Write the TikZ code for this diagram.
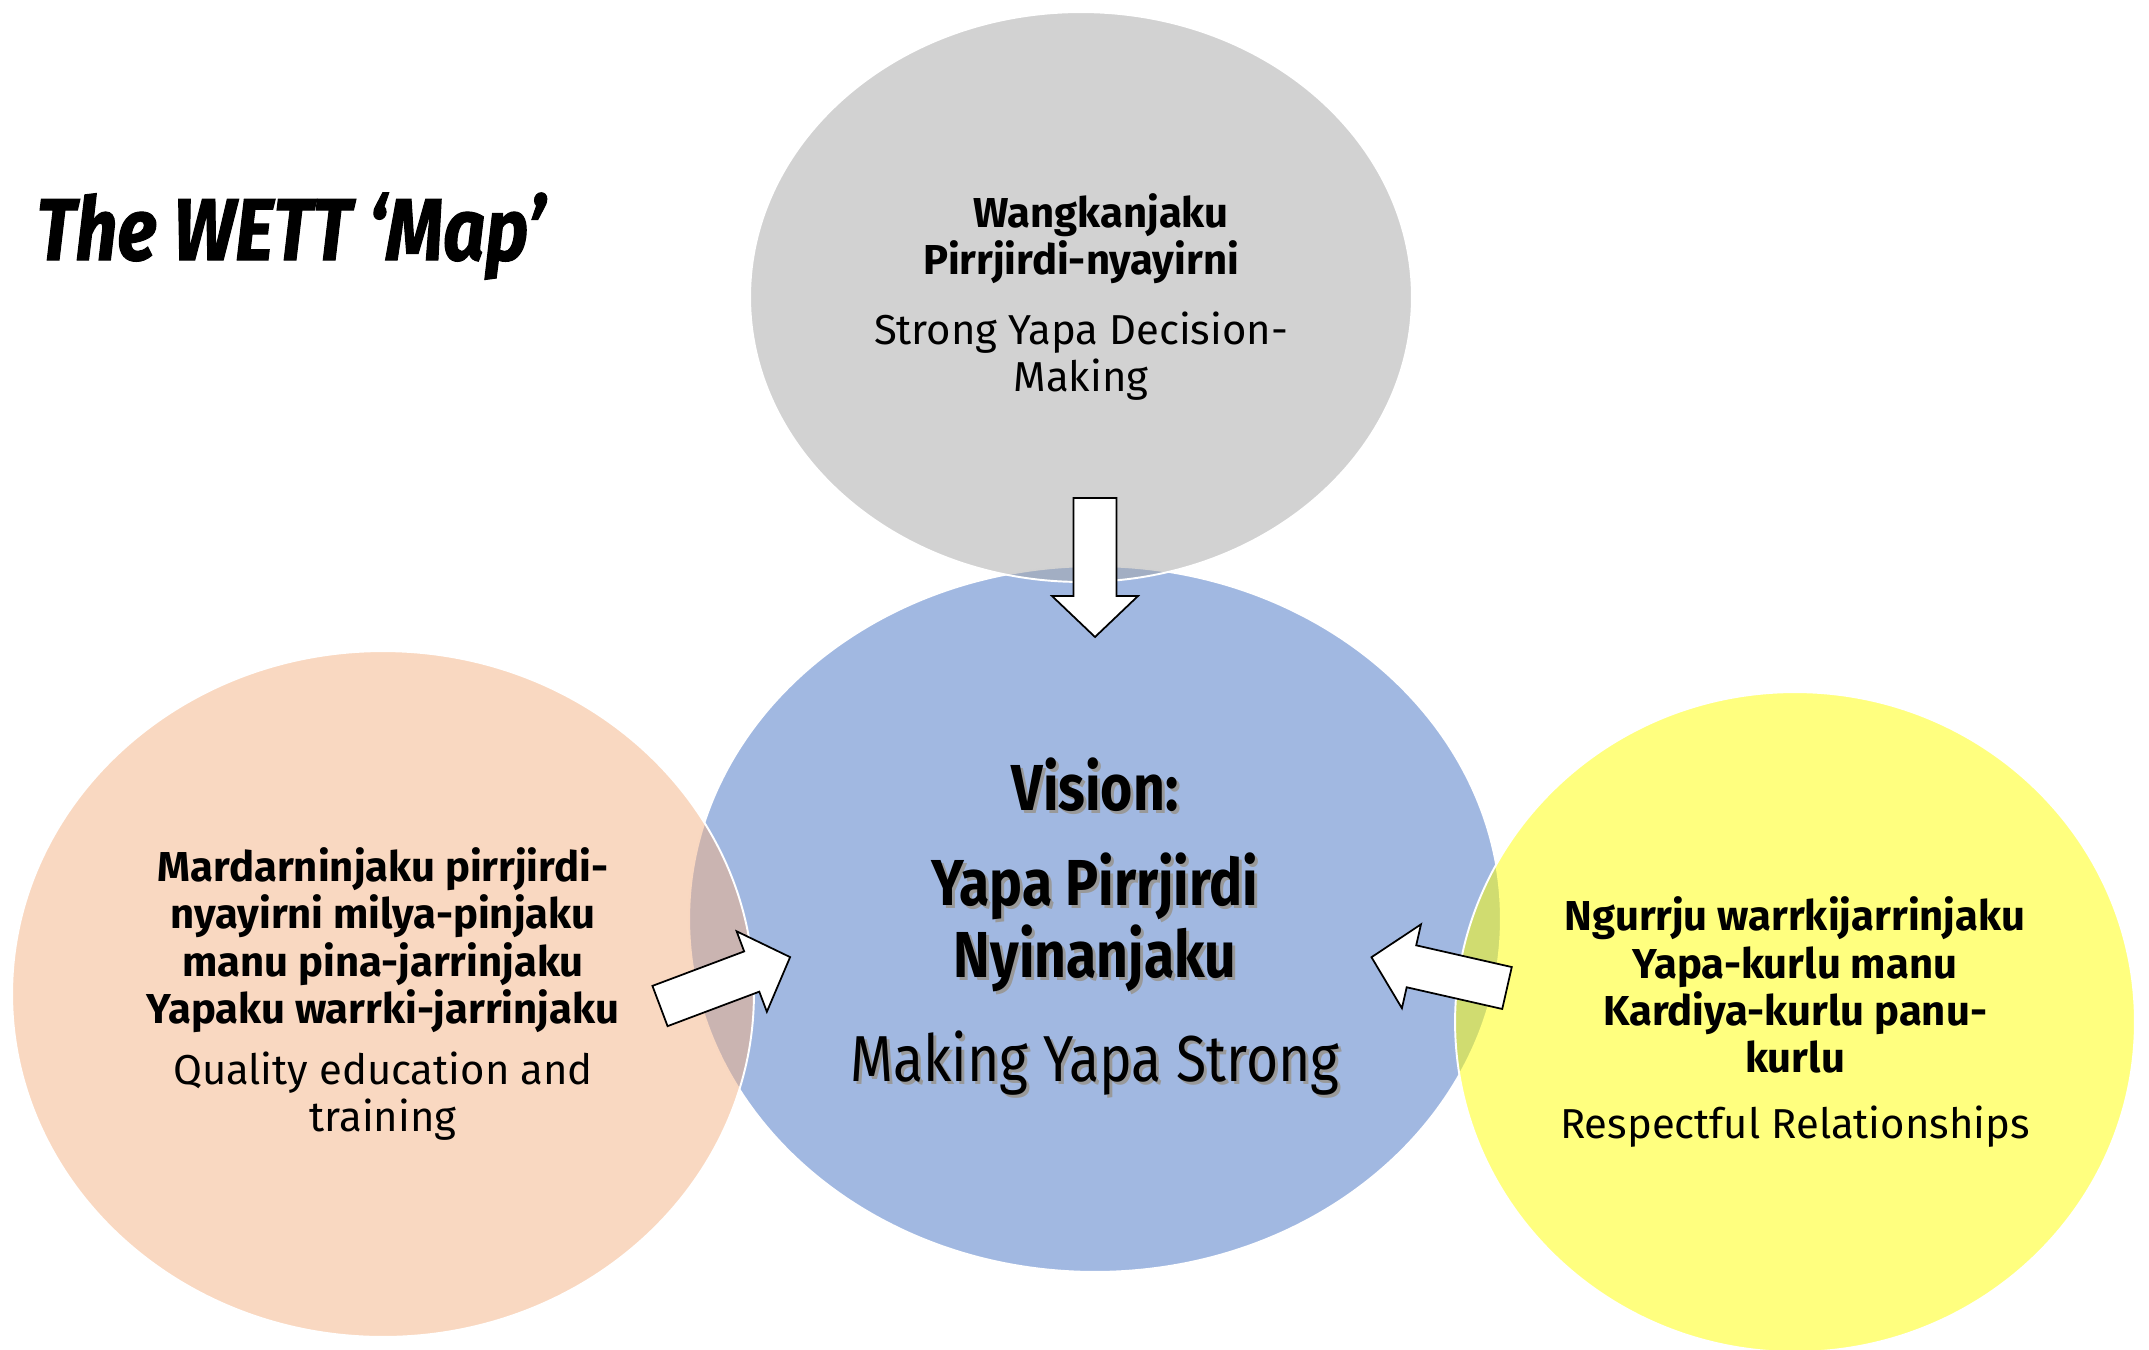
\documentclass[tikz,border=0pt]{standalone}
\usepackage{fontspec}
\setmainfont{Fira Sans}
\newfontfamily\visionfont[FakeStretch=0.85]{Fira Sans}
\newfontfamily\titlefont[FakeStretch=0.84, FakeBold=1.2]{Fira Sans}
\usetikzlibrary{shapes.geometric}
\definecolor{WettBlue}{HTML}{4472C4}
\definecolor{WettGrey}{HTML}{A5A5A5}
\definecolor{WettOrange}{HTML}{F4B183}
\definecolor{WettYellow}{HTML}{FFFF00}
\newcommand{\shadowed}[1]{\makebox[0pt][l]{\hspace{1.7pt}\raisebox{-1.7pt}{\textcolor{black!40}{#1}}}#1}

\begin{document}
\begin{tikzpicture}[
        x=0.02cm, y=-0.02cm,
        bubble/.style={
            ellipse,
            draw=white,
            line width=1.1pt,
            fill opacity=0.5,
            text opacity=1,
            inner sep=0pt,
            align=center,
            font=\fontsize{23.8}{27}\selectfont
        },
        blockarrow/.style={draw=black, fill=white, line width=1pt, line join=miter}
    ]

    \useasboundingbox (0,0) rectangle (2149,1349);

    % Titel
    \node[anchor=base west, inner sep=0pt, font=\titlefont\fontsize{50}{52}\selectfont\bfseries\itshape] (title) at (36,260) {The WETT ‘Map’};

    % Kreise
    \node[bubble, fill=WettBlue, minimum width=16.24cm, minimum height=14.12cm,
          font=\visionfont\fontsize{37}{34}\selectfont] (vision) at (1095,919)
        {\rule{0pt}{1.42cm}\textbf{\shadowed{Vision:}}\\[0.7cm]
         \textbf{\shadowed{Yapa Pirrjirdi}}\\
         \textbf{\shadowed{Nyinanjaku}}\\[0.68cm]
         \shadowed{Making Yapa Strong}};
    \node[bubble, fill=WettGrey, minimum width=13.24cm, minimum height=11.4cm] (decision) at (1081,297)
        {\textbf{\hspace*{0.8cm}Wangkanjaku}\\
         \textbf{Pirrjirdi-nyayirni}\\[0.44cm]
         Strong Yapa Decision-\\
         Making};
    \node[bubble, fill=WettOrange, minimum width=14.84cm, minimum height=13.72cm] (education) at (383,994)
        {\textbf{Mardarninjaku pirrjirdi-}\\
         \textbf{nyayirni milya-pinjaku}\\
         \textbf{manu pina-jarrinjaku}\\
         \textbf{Yapaku warrki-jarrinjaku}\\[0.26cm]
         Quality education and\\
         training};
    \node[bubble, fill=WettYellow, minimum width=13.6cm, minimum height=13.2cm] (respect) at (1795,1022)
        {\textbf{Ngurrju warrkijarrinjaku}\\
         \textbf{Yapa-kurlu manu}\\
         \textbf{Kardiya-kurlu panu-}\\
         \textbf{kurlu}\\[0.36cm]
         Respectful Relationships};

    % Pfeile
    \draw[blockarrow, shift={(1095,498)}, rotate=-90]
        (0,-21.5) -- (98,-21.5) -- (98,-43) -- (139,0) -- (98,43) -- (98,21.5) -- (0,21.5) -- cycle;
    \draw[blockarrow, shift={(660,1006)}, rotate=20.6]
        (0,-21.5) -- (98,-21.5) -- (98,-43) -- (139,0) -- (98,43) -- (98,21.5) -- (0,21.5) -- cycle;
    \draw[blockarrow, shift={(1507,988)}, rotate=167.2]
        (0,-21.5) -- (98,-21.5) -- (98,-43) -- (139,0) -- (98,43) -- (98,21.5) -- (0,21.5) -- cycle;

\end{tikzpicture}
\end{document}
